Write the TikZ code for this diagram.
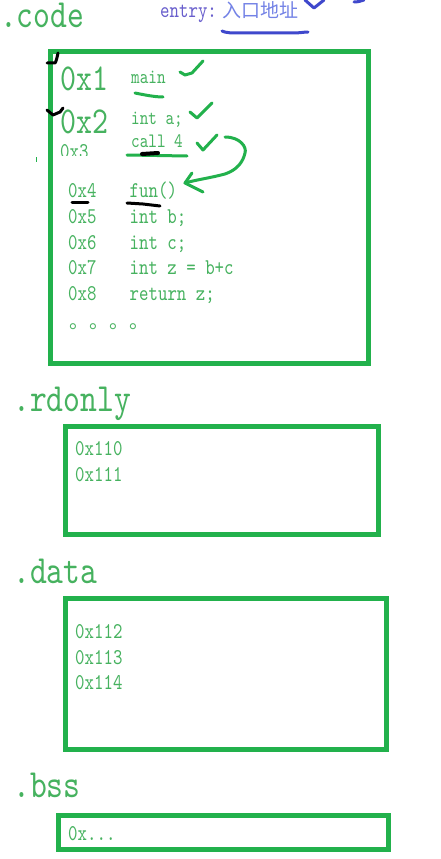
\documentclass[tikz,border=0pt]{standalone}
\usepackage{fontspec}
\newfontfamily\cjkft{Noto Sans CJK SC}
\newfontfamily\lmmono[FakeStretch=0.8]{lmmono10-regular.otf}
\definecolor{paintgreen}{RGB}{34,177,76}
\definecolor{txtgreen}{RGB}{70,178,95}
\definecolor{paintblue}{RGB}{63,72,204}
\definecolor{entryblue}{RGB}{105,95,205}
\definecolor{cjkblue}{RGB}{115,130,230}
\tikzset{
  secbox/.style={draw=paintgreen,line width=5pt},
  biglbl/.style={anchor=base west,inner sep=0pt,text=txtgreen,font=\lmmono\fontsize{40}{40}\selectfont},
  bigaddr/.style={anchor=base west,inner sep=0pt,text=txtgreen,font=\lmmono\fontsize{38}{38}\selectfont},
  smalltxt/.style={anchor=base west,inner sep=0pt,text=txtgreen,font=\lmmono\fontsize{22.5}{22.5}\selectfont},
  codetxt/.style={anchor=base west,inner sep=0pt,text=txtgreen,font=\lmmono\fontsize{20.5}{20.5}\selectfont},
  gmark/.style={draw=paintgreen,line width=3pt,line cap=round,line join=round},
  kmark/.style={draw=black,line width=3pt,line cap=round,line join=round},
  bmark/.style={draw=paintblue,line width=3pt,line cap=round,line join=round},
}
\begin{document}
\begin{tikzpicture}[x=1pt,y=-1pt]
\useasboundingbox (0,0) rectangle (441,859);
\fill[white] (0,0) rectangle (441,859);

% section labels
\node[biglbl] (lcode) at (0,28) {.code};
\node[biglbl] (lrd) at (13,411) {.rdonly};
\node[biglbl] (ldata) at (13,583) {.data};
\node[biglbl] (lbss) at (13,797) {.bss};

% entry label
\node[anchor=base west,inner sep=0pt,text=entryblue,font=\lmmono\fontsize{22.5}{22.5}\selectfont] (entry) at (160,18) {entry:};
\node[anchor=base west,inner sep=0pt,text=cjkblue,font=\cjkft\fontsize{19}{19}\selectfont] (entrycn) at (222,18) {入口地址};
\draw[bmark] (222,31) .. controls (226,33) and (232,33) .. (240,33) -- (293,33) .. controls (300,33) and (304,32) .. (308,32);
\draw[bmark] (305,0) -- (314,8) -- (324,0);
\draw[bmark] (354,2) .. controls (358,2) and (361,1) .. (364,0);

% boxes
\node[secbox,draw,minimum width=318pt,minimum height=311.5pt,inner sep=0pt,anchor=north west] (bcode) at (47.5,49) {};
\node[secbox,draw,minimum width=313pt,minimum height=108pt,inner sep=0pt,anchor=north west] (brd) at (62.5,424) {};
\node[secbox,draw,minimum width=321pt,minimum height=151pt,inner sep=0pt,anchor=north west] (bdata) at (62.5,595.5) {};
\node[secbox,draw,minimum width=330pt,minimum height=34pt,inner sep=0pt,anchor=north west] (bbss) at (55.5,812.5) {};
\fill[white] (69,809) rectangle (141,813);

% code box content
\node[bigaddr] (a1) at (60.5,90) {0x1};
\node[bigaddr] (a2) at (60.5,133) {0x2};
\begin{scope}
\clip (55,140) rectangle (120,155);
\node[smalltxt] (a3) at (60,158.5) {0x3};
\end{scope}
\node[codetxt] (c1) at (131,84) {main};
\node[codetxt] (c2) at (131,124) {int a;};
\node[codetxt] (c3) at (131,147) {call 4};

\node[smalltxt] (a4) at (68,197) {0x4};
\node[smalltxt] (a5) at (68,223) {0x5};
\node[smalltxt] (a6) at (68,249) {0x6};
\node[smalltxt] (a7) at (68,274) {0x7};
\node[smalltxt] (a8) at (68,300) {0x8};
\node[smalltxt] (c4) at (129.5,197) {fun()};
\node[smalltxt] (c5) at (129.5,223) {int b;};
\node[smalltxt] (c6) at (129.5,249) {int c;};
\node[smalltxt] (c7) at (129.5,274) {int z = b+c};
\node[smalltxt] (c8) at (129.5,300) {return z;};
\node[anchor=base west,inner sep=0pt,text=txtgreen,font=\cjkft\fontsize{20}{20}\selectfont] (dots) at (69,328) {。。。。};

% rdonly / data / bss content
\node[smalltxt] (r1) at (75,455) {0x110};
\node[smalltxt] (r2) at (75,481) {0x111};
\node[smalltxt] (d1) at (75,638) {0x112};
\node[smalltxt] (d2) at (75,664) {0x113};
\node[smalltxt] (d3) at (75,689) {0x114};
\node[smalltxt] (s1) at (68,840) {0x...};

% green hand marks
\draw[gmark] (180,72) -- (185,75) -- (192,73) -- (203,61);
\draw[gmark] (190,112) -- (197,118) -- (212,103);
\draw[gmark] (197,143) -- (203,150) -- (217,135);
\draw[gmark] (135,93) .. controls (145,95) and (155,97) .. (163,97);
\draw[gmark] (127,155) -- (187,156);
\draw[gmark] (225,137) .. controls (240,137) and (247,147) .. (245,153)
  .. controls (243,162) and (237,170) .. (225,174) .. controls (210,178) and (195,180) .. (185,183);
\draw[gmark] (192,173) -- (185,183) -- (203,192);
\draw[paintgreen,line width=1pt] (36,157) -- (36,162);

% black hand marks
\draw[kmark] (58,53) .. controls (57,58) and (56,62) .. (55,63) -- (47,63);
\draw[kmark] (47,110) -- (53,115) -- (60,112) -- (63,108);
\draw[kmark,line width=4pt] (142,154) -- (158,153);
\draw[kmark] (72,202) -- (88,202);
\draw[kmark] (127,203) -- (143,204) -- (160,206);
\end{tikzpicture}
\end{document}
